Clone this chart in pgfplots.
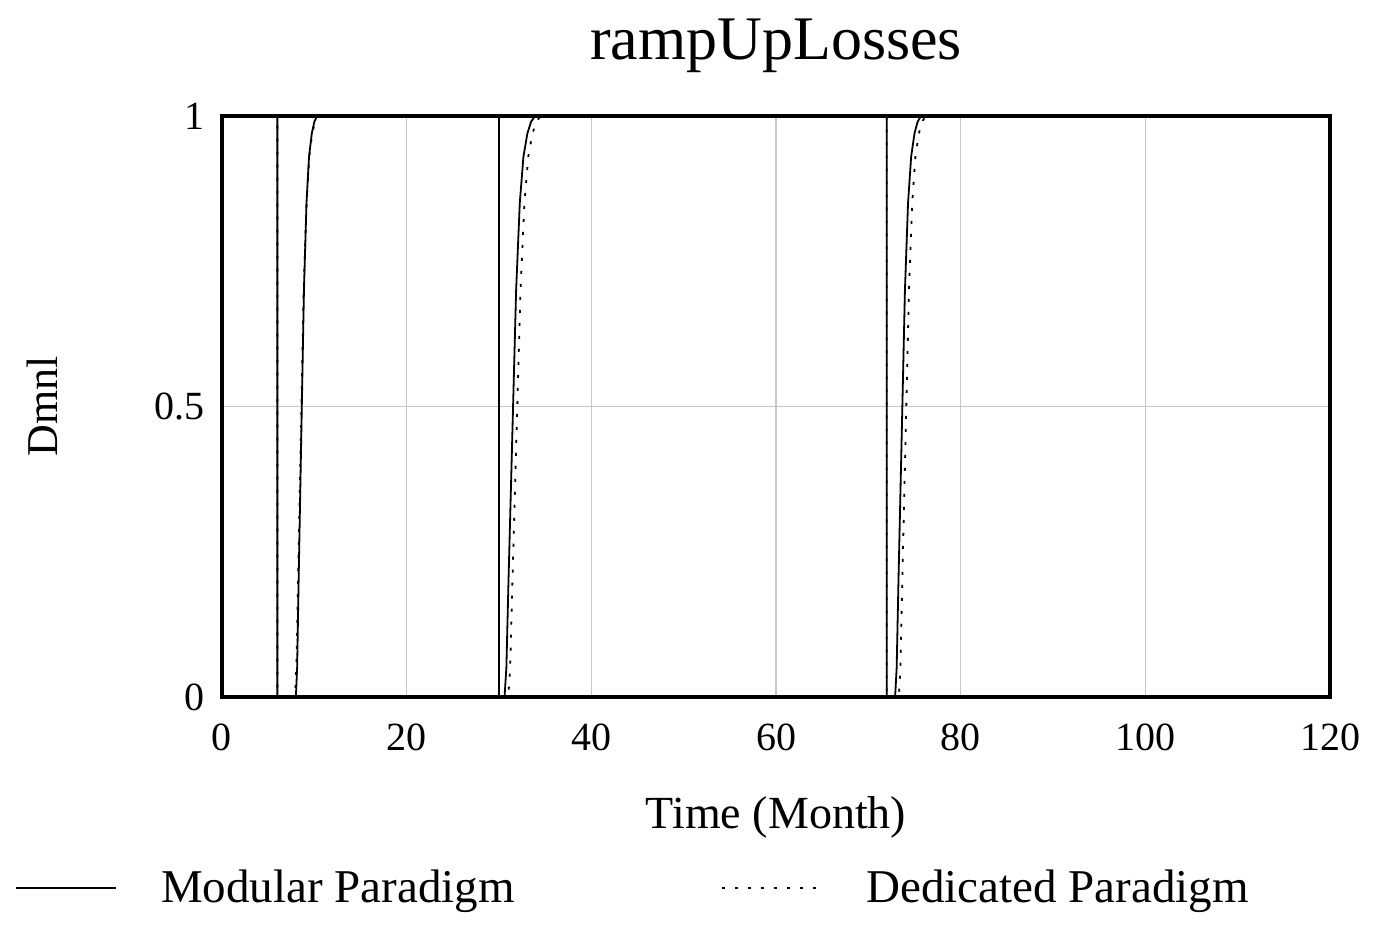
\documentclass[border=0pt]{standalone}
\usepackage{pgfplots}
\pgfplotsset{compat=1.18}
\usepackage{fontspec}
\setmainfont{Liberation Serif}
\begin{document}
\begin{tikzpicture}
\useasboundingbox (-111pt,-114pt) rectangle (576pt,348.5pt);
\begin{axis}[
  at={(0pt,0pt)}, anchor=south west,
  scale only axis, width=554pt, height=290.5pt,
  xmin=0, xmax=120, ymin=0, ymax=1,
  xtick={0,20,...,120}, ytick={0,0.5,1},
  yticklabels={0,0.5,1},
  major tick length=0pt,
  grid=major,
  major grid style={draw=black!22, line width=0.6pt},
  axis line style={line width=1.6pt},
  /pgf/number format/assume math mode=true,
  tick label style={font=\fontsize{20}{24}\selectfont},
  yticklabel style={xshift=-5pt},
  xticklabel style={yshift=-10pt},
  title={rampUpLosses},
  title style={font=\fontsize{31}{37}\selectfont, at={(0.5,1)}, anchor=base, yshift=22pt},
  xlabel={Time (Month)},
  xlabel style={font=\fontsize{23}{28}\selectfont, at={(0.5,0)}, anchor=base, yshift=-65.5pt},
  ylabel={Dmnl},
  ylabel style={font=\fontsize{22}{26}\selectfont, at={(0,0.5)}, anchor=center, rotate=0, yshift=90pt},
  legend columns=2,
  legend style={draw=none, fill=none, at={(-0.187,-0.329)}, anchor=west,
    font=\fontsize{23.5}{28}\selectfont, inner sep=0pt,
    nodes={inner sep=0pt, anchor=west},
    /tikz/every even column/.append style={column sep=103pt}},
  legend image code/.code={\draw[#1] (0pt,0pt) -- (50pt,0pt); \path (0pt,-4pt) (72pt,4pt);},
]
\addplot[black, line width=0.9pt] coordinates {
 (0,1) (6,1) (6,0) (8.0,0) (8.138,0.05) (8.299,0.2) (8.644,0.5) (8.874,0.7) (9.15,0.85) (9.426,0.93) (9.725,0.97) (10.001,0.99) (10.3,1)
 (30,1) (30,0) (30.6,0) (30.798,0.05) (31.029,0.2) (31.524,0.5) (31.854,0.7) (32.25,0.85) (32.646,0.93) (33.075,0.97) (33.471,0.99) (33.9,1)
 (72,1) (72,0) (72.9,0) (73.068,0.05) (73.264,0.2) (73.684,0.5) (73.964,0.7) (74.3,0.85) (74.636,0.93) (74.999,0.97) (75.336,0.99) (75.7,1)
 (120,1)
};
\addlegendentry{Modular Paradigm}
\addplot[black, line width=0.9pt, dash pattern=on 1.5pt off 5pt] coordinates {
 (0,1) (6,1) (6,0) (7.9,0) (8.05,0.05) (8.225,0.2) (8.6,0.5) (8.85,0.7) (9.15,0.85) (9.45,0.93) (9.775,0.97) (10.075,0.99) (10.4,1)
 (30,1) (30,0) (31.0,0) (31.21,0.05) (31.455,0.2) (31.98,0.5) (32.33,0.7) (32.75,0.85) (33.17,0.93) (33.625,0.97) (34.045,0.99) (34.5,1)
 (72,1) (72,0) (73.3,0) (73.474,0.05) (73.677,0.2) (74.112,0.5) (74.402,0.7) (74.75,0.85) (75.098,0.93) (75.475,0.97) (75.823,0.99) (76.2,1)
 (120,1)
};
\addlegendentry{Dedicated Paradigm}
\end{axis}
\end{tikzpicture}
\end{document}
